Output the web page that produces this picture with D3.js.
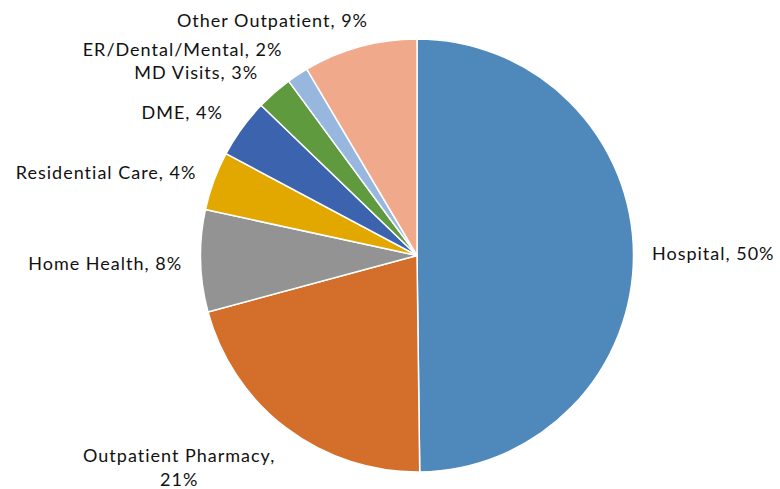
<!DOCTYPE html>
<html><head><meta charset="utf-8">
<script src="https://cdn.jsdelivr.net/npm/d3@7"></script>
<style>html,body{margin:0;padding:0;background:#fff;}</style>
</head><body>
<svg id="chart" width="780" height="489"></svg>
<script>
const categories = ["Hospital","Outpatient Pharmacy","Home Health","Residential Care","DME","MD Visits","ER/Dental/Mental","Other Outpatient"];
const values = [49.8, 21.0, 7.6, 4.4, 4.4, 2.7, 1.6, 8.5];
const percentLabels = ["50%","21%","8%","4%","4%","3%","2%","9%"];
const colors = ["#4F89BC","#D36F2B","#939393","#E2A800","#3C64AE","#5F9A3E","#97B7DF","#F0A98A"];

// layout-only nudges for labels (dx, dy) and line breaks
const labelNudge = [[0,0],[0,25],[0,2],[0,-2],[-4,-5],[-4,-6],[-5,-9.5],[13,-8]];
const labelLines = [null, ["Outpatient Pharmacy,","21%"], null,null,null,null,null,null];

const svg = d3.select("#chart");
const cx = 417, cy = 255.5, r = 216.5, rl = 235;
const g = svg.append("g").attr("transform",`translate(${cx},${cy})`);

const data = categories.map((c,i)=>({name:c,value:values[i],pct:percentLabels[i],color:colors[i],i}));
const pie = d3.pie().value(d=>d.value).sort(null);
const arc = d3.arc().innerRadius(0).outerRadius(r);
const arcs = pie(data);

g.selectAll("path.slice").data(arcs).join("path")
  .attr("class","slice")
  .attr("d",arc)
  .attr("fill",d=>d.data.color)
  .attr("stroke","#fff").attr("stroke-width",1.5).attr("stroke-linejoin","round");

const fontFamily = "Lato, 'Open Sans', sans-serif";
const fontSize = 18;
const lineH = 24;

arcs.forEach(a=>{
  const i = a.data.i;
  const mid = (a.startAngle+a.endAngle)/2;
  const px = Math.sin(mid)*rl + labelNudge[i][0];
  const py = -Math.cos(mid)*rl + labelNudge[i][1];
  const lines = labelLines[i] || [a.data.name + ", " + a.data.pct];
  const t = g.append("text")
    .attr("font-family",fontFamily).attr("font-size",fontSize).attr("fill","#111")
    .attr("letter-spacing","1px")
    .attr("text-anchor","middle");
  lines.forEach((ln,k)=>{
    t.append("tspan").text(ln).attr("x",0)
      .attr("y",(k-(lines.length-1)/2)*lineH).attr("dy","0.35em");
  });
  const w = t.node().getBBox().width;
  const right = Math.sin(mid) >= 0;
  const centerX = right ? px + w/2 : px - w/2;
  t.selectAll("tspan").attr("x",centerX);
  t.attr("transform",`translate(0,${py})`);
});
</script>
</body></html>
